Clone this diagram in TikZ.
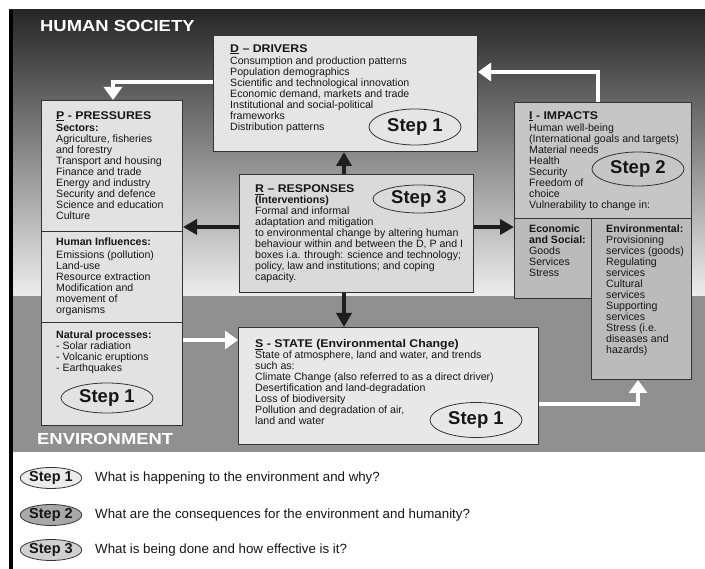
\documentclass[tikz,border=0pt]{standalone}
\usepackage{fontspec}
\setmainfont{Liberation Sans}[FakeStretch=1.0]
\newfontfamily\hdfont{Liberation Sans}[FakeStretch=1.15]
\newfontfamily\ttlfont{Liberation Sans}[FakeStretch=1.1]
\newfontfamily\plainfont{Liberation Sans}
\usetikzlibrary{arrows.meta,shapes.geometric,calc}
\definecolor{bgtop}{HTML}{262626}
\definecolor{bgbot}{HTML}{EDEDED}
\definecolor{envband}{HTML}{909090}
\definecolor{boxline}{HTML}{333333}
\definecolor{boxD}{HTML}{E5E5E5}
\definecolor{boxP}{HTML}{E2E2E2}
\definecolor{boxR}{HTML}{DADADA}
\definecolor{boxI}{HTML}{C6C6C6}
\definecolor{boxE}{HTML}{BBBBBB}
\definecolor{boxS}{HTML}{E8E8E8}
\definecolor{txtc}{HTML}{161616}
\definecolor{arrc}{HTML}{1E1E1E}
\definecolor{lg1}{HTML}{ECECEC}
\definecolor{lg2}{HTML}{A8A8A8}
\definecolor{lg3}{HTML}{D0D0D0}
\newcommand\boxtitle{\ttlfont\bfseries\fontsize{11.2}{12}\selectfont}
\tikzset{
  box/.style={draw=boxline, line width=1pt, inner sep=0pt, anchor=north west},
  txt/.style={anchor=north west, inner sep=0pt, align=left, text=txtc,
    font=\fontsize{10.6}{11}\selectfont},
  stepell/.style={ellipse, draw=boxline, line width=0.8pt, inner sep=0pt,
    minimum width=92pt, text=txtc, font=\plainfont\bfseries\fontsize{18.5}{18}\selectfont},
  lgell/.style={ellipse, draw=boxline, line width=0.8pt, inner sep=0pt,
    minimum width=54pt, minimum height=21pt, text=txtc,
    font=\plainfont\bfseries\fontsize{14.5}{15}\selectfont},
  lgtxt/.style={anchor=west, inner sep=0pt, text=txtc,
    font=\plainfont\fontsize{13.3}{14}\selectfont},
  hdtxt/.style={anchor=west, inner sep=0pt, text=white,
    font=\hdfont\bfseries\fontsize{16}{16}\selectfont},
  warrow/.style={draw=white, line width=4.5pt,
    -{Triangle[length=13pt,width=18pt]}},
  barrow/.style={draw=arrc, line width=4pt,
    -{Triangle[length=14pt,width=15pt]}},
}
\begin{document}
\begin{tikzpicture}[x=1pt,y=-1pt]
\useasboundingbox (0,0) rectangle (705,569);
\fill[white] (0,0) rectangle (705,569);
\shade[top color=bgtop, bottom color=bgbot] (9,10) rectangle (705,296);
\fill[envband] (9,296) rectangle (705,452);
\fill[black] (9,10) rectangle (13,569);

\node[hdtxt] (hs) at (40,26) {HUMAN SOCIETY};
\node[hdtxt] (env) at (37,439) {ENVIRONMENT};

% boxes
\node[box, fill=boxD, minimum width=264pt, minimum height=116pt] (D) at (213,35) {};
\node[box, fill=boxP, minimum width=141pt, minimum height=325pt] (P) at (41,100) {};
\draw[boxline, line width=1pt] (41,232) -- (182,232);
\draw[boxline, line width=1pt] (41,323) -- (182,323);
\node[box, fill=boxR, minimum width=234pt, minimum height=118pt] (R) at (239,174) {};
\node[box, fill=boxI, minimum width=177pt, minimum height=116pt] (I) at (514,102) {};
\node[box, fill=boxE, minimum width=77pt, minimum height=80pt] (Eco) at (514,218) {};
\node[box, fill=boxE, minimum width=100pt, minimum height=161pt] (Env) at (591,218) {};
\node[box, fill=boxS, minimum width=300pt, minimum height=117pt] (S) at (238,327) {};

% texts
\node[txt] (Dt) at (230,44) {{\boxtitle\underline{D} – DRIVERS}\\[1pt]
Consumption and production patterns\\
Population demographics\\
Scientific and technological innovation\\
Economic demand, markets and trade\\
Institutional and social-political\\
frameworks\\
Distribution patterns};

\node[txt] (Pt1) at (56,111) {{\boxtitle\underline{P} - PRESSURES}\\[1pt]
\textbf{Sectors:}\\
Agriculture, fisheries\\
and forestry\\
Transport and housing\\
Finance and trade\\
Energy and industry\\
Security and defence\\
Science and education\\
Culture};

\node[txt] (Pt2) at (56,238) {\textbf{Human Influences:}\\[1.5pt]
Emissions (pollution)\\
Land-use\\
Resource extraction\\
Modification and\\
movement of\\
organisms};

\node[txt] (Pt3) at (56,330.5) {\textbf{Natural processes:}\\
- Solar radiation\\
- Volcanic eruptions\\
- Earthquakes};

\node[txt] (Rt) at (255,184.5) {{\boxtitle\underline{R} – RESPONSES}\\
\textbf{(Interventions)}\\
Formal and informal\\
adaptation and mitigation\\
to environmental change by altering human\\
behaviour within and between the D, P and I\\
boxes i.a. through: science and technology;\\
policy, law and institutions; and coping\\
capacity.};

\node[txt] (It) at (529,111) {{\boxtitle\underline{I} - IMPACTS}\\[1pt]
Human well-being\\
(International goals and targets)\\
Material needs\\
Health\\
Security\\
Freedom of\\
choice\\
Vulnerability to change in:};

\node[txt] (Ecot) at (529,224.5) {\textbf{Economic}\\
\textbf{and Social:}\\
Goods\\
Services\\
Stress};

\node[txt] (Envt) at (606,224.5) {\textbf{Environmental:}\\
Provisioning\\
services (goods)\\
Regulating\\
services\\
Cultural\\
services\\
Supporting\\
services\\
Stress (i.e.\\
diseases and\\
hazards)};

\node[txt] (St) at (255,339) {{\boxtitle\underline{S} - STATE (Environmental Change)}\\
State of atmosphere, land and water, and trends\\
such as:\\
Climate Change (also referred to as a direct driver)\\
Desertification and land-degradation\\
Loss of biodiversity\\
Pollution and degradation of air,\\
land and water};

% step ellipses
\node[stepell, minimum height=36pt] (Dstep) at (415,127) {Step 1};
\node[stepell, minimum height=30pt] (Pstep) at (107,398) {Step 1};
\node[stepell, minimum height=28pt] (Rstep) at (419,199) {Step 3};
\node[stepell, minimum height=34pt] (Istep) at (638,169) {Step 2};
\node[stepell, minimum height=35pt] (Sstep) at (476,420) {Step 1};

% arrows
\coordinate (c1) at (113,82);
\draw[warrow] (c1 -| D.west) -- (c1) -- (c1 |- P.north);
\coordinate (c2) at (598,72);
\draw[warrow] (c2 |- I.north) -- (c2) -- (c2 -| D.east);
\coordinate (c3) at (0,340);
\draw[warrow] (c3 -| P.east) -- (c3 -| S.west);
\coordinate (c4) at (638,404);
\draw[warrow] (c4 -| S.east) -- (c4) -- (c4 |- Env.south);
\coordinate (cx) at (344,227);
\draw[barrow] (cx |- R.north) -- (cx |- D.south);
\draw[barrow] (cx |- R.south) -- (cx |- S.north);
\draw[barrow] (cx -| R.west) -- (cx -| P.east);
\draw[barrow] (cx -| R.east) -- (cx -| I.west);

% legend
\node[lgell, fill=lg1] (L1) at (51,478) {Step 1};
\node[lgell, fill=lg2] (L2) at (51,515) {Step 2};
\node[lgell, fill=lg3] (L3) at (51,550) {Step 3};
\node[lgtxt] (L1t) at (95,478) {What is happening to the environment and why?};
\node[lgtxt] (L2t) at (95,515) {What are the consequences for the environment and humanity?};
\node[lgtxt] (L3t) at (95,550) {What is being done and how effective is it?};
\end{tikzpicture}
\end{document}
